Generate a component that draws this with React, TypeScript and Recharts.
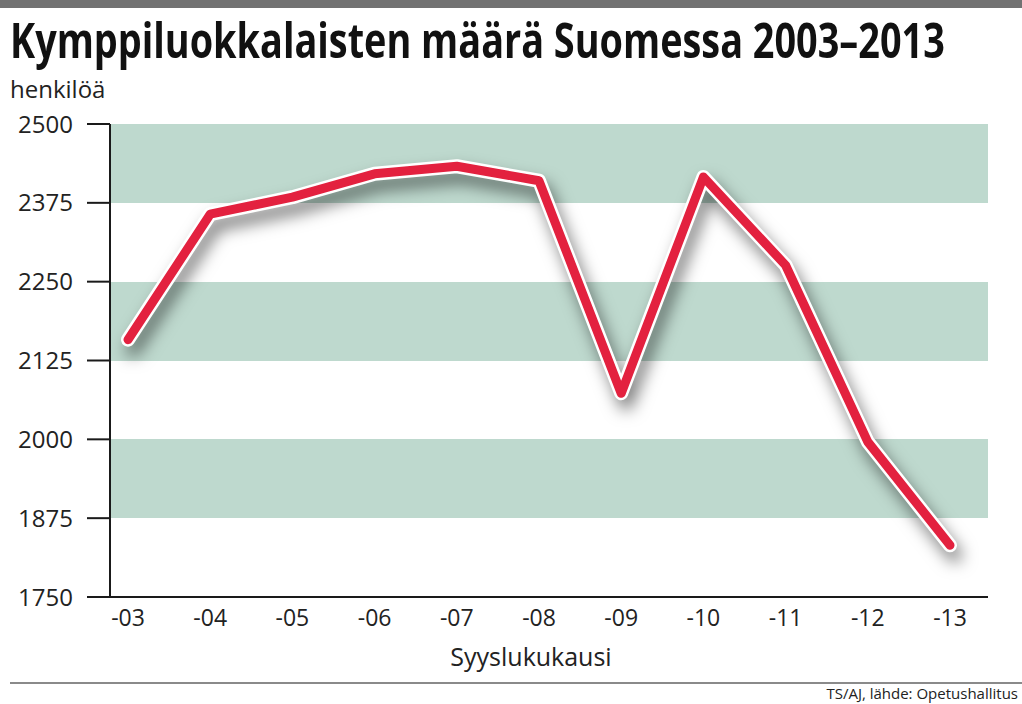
import React from "react";
import { LineChart, Line, XAxis, YAxis, CartesianGrid } from "recharts";

const years = ["-03", "-04", "-05", "-06", "-07", "-08", "-09", "-10", "-11", "-12", "-13"];
const students = [2158, 2357, 2384, 2421, 2433, 2410, 2073, 2416, 2276, 1996, 1832];
const yTicks = [1750, 1875, 2000, 2125, 2250, 2375, 2500];
// stripes from top: green, white, green, white, green, white
const stripeColors = ["#bed9ce", "#ffffff"];

const data = years.map((y, i) => ({ year: y, value: students[i] }));

const FONT = "'Open Sans', 'Noto Sans', sans-serif";

export default function App() {
  return (
    <div style={{ position: "absolute", left: 0, top: 0, width: 1022, height: 704, background: "#fff", overflow: "hidden", fontFamily: FONT }}>
      <style>{`.shadowLine .recharts-curve { filter: drop-shadow(5px 10px 8px rgba(0,0,0,0.5)); }`}</style>
      <div style={{ position: "absolute", left: 0, top: 0, width: 1022, height: 8, background: "#727272" }} />
      <div
        style={{
          position: "absolute",
          left: 10,
          top: 16,
          fontSize: 40,
          lineHeight: "40px",
          fontWeight: 700,
          color: "#111",
          whiteSpace: "nowrap",
          transform: "scale(0.946, 1.2)",
          transformOrigin: "left top",
        }}
      >
        Kymppiluokkalaisten määrä Suomessa 2003–2013
      </div>
      <div style={{ position: "absolute", left: 10, top: 73, fontSize: 24, lineHeight: "32px", color: "#222" }}>
        henkilöä
      </div>
      <div style={{ position: "absolute", left: 0, top: 0 }}>
        <LineChart width={1022} height={704} data={data} margin={{ top: 124, right: 34, bottom: 77, left: 0 }}>
          <CartesianGrid vertical={false} stroke="none" horizontalFill={stripeColors} fillOpacity={1} />
          <XAxis
            dataKey="year"
            padding={{ left: 18, right: 38 }}
            tickLine={false}
            tickSize={0}
            tickMargin={13}
            height={30}
            axisLine={{ stroke: "#1a1a1a", strokeWidth: 2 }}
            tick={{ fill: "#222", fontSize: 23, fontFamily: FONT }}
            interval={0}
          />
          <YAxis
            type="number"
            domain={[1750, 2500]}
            ticks={yTicks}
            width={110}
            tickSize={23}
            tickMargin={14}
            axisLine={{ stroke: "#1a1a1a", strokeWidth: 2 }}
            tickLine={{ stroke: "#1a1a1a", strokeWidth: 2 }}
            tick={{ fill: "#222", fontSize: 24, fontFamily: FONT }}
            interval={0}
          />
          <Line
            className="shadowLine"
            dataKey="value"
            stroke="#ffffff"
            strokeWidth={14}
            strokeLinejoin="round"
            strokeLinecap="round"
            dot={false}
            activeDot={false}
            isAnimationActive={false}
          />
          <Line
            dataKey="value"
            stroke="#e3213f"
            strokeWidth={9}
            strokeLinejoin="round"
            strokeLinecap="round"
            dot={false}
            activeDot={false}
            isAnimationActive={false}
          />
        </LineChart>
      </div>
      <div style={{ position: "absolute", left: 0, width: 1062, top: 640, textAlign: "center", fontSize: 25, lineHeight: "32px", color: "#222" }}>
        Syyslukukausi
      </div>
      <div style={{ position: "absolute", left: 10, right: 0, top: 682, height: 2, background: "#8a8a8a" }} />
      <div style={{ position: "absolute", right: 4, top: 684, fontSize: 15, lineHeight: "18px", color: "#222" }}>
        TS/AJ, lähde: Opetushallitus
      </div>
    </div>
  );
}
